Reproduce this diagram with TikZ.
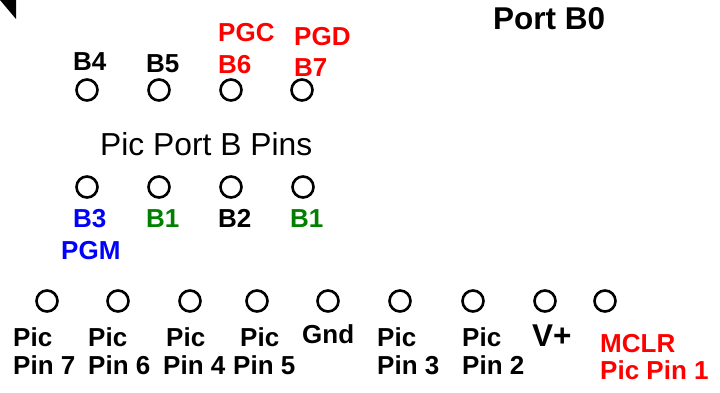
\documentclass[tikz,border=0pt]{standalone}
\usepackage{fontspec}
\setmainfont{Liberation Sans}
\definecolor{pred}{RGB}{255,0,0}
\definecolor{pblue}{RGB}{0,0,255}
\definecolor{pgreen}{RGB}{0,128,0}
\tikzset{
  pin/.style={circle,draw=black,line width=2.6pt,minimum size=21pt,inner sep=0pt},
  lbl/.style={anchor=base west,inner sep=0pt,font=\fontsize{26}{30}\selectfont\bfseries},
  biglbl/.style={anchor=base west,inner sep=0pt,font=\fontsize{31.5}{36}\selectfont\bfseries},
  title/.style={anchor=base west,inner sep=0pt,font=\fontsize{31.8}{36}\selectfont},
}
\begin{document}
\begin{tikzpicture}[x=1pt,y=-1pt]
\useasboundingbox (0,0) rectangle (720,392);
\fill[black] (0,0) -- (16,0) -- (16,19) -- cycle;
% top row
\node[pin] (c4) at (87,90) {};
\node[pin] (c5) at (159,90) {};
\node[pin] (c6) at (231,90) {};
\node[pin] (c7) at (302,90) {};
\node[lbl] (lB4) at (73,70) {B4};
\node[lbl] (lB5) at (146,72) {B5};
\node[lbl,text=pred] (lPGC) at (218,41) {PGC};
\node[lbl,text=pred] (lB6) at (218,73) {B6};
\node[lbl,text=pred] (lPGD) at (294,45) {PGD};
\node[lbl,text=pred] (lB7) at (294,76) {B7};
\node[biglbl] (port) at (493,29) {Port B0};
\node[title] (ttl) at (100,155) {Pic Port B Pins};
% second row
\node[pin] (c3) at (87,187) {};
\node[pin] (c1a) at (159,187) {};
\node[pin] (c2) at (231,187) {};
\node[pin] (c1b) at (303,187) {};
\node[lbl,text=pblue] (lB3) at (73,227) {B3};
\node[lbl,text=pblue] (lPGM) at (61,259) {PGM};
\node[lbl,text=pgreen] (lB1a) at (146,227) {B1};
\node[lbl] (lB2) at (218,227) {B2};
\node[lbl,text=pgreen] (lB1b) at (290,227) {B1};
% bottom row
\node[pin] (p7) at (47,301) {};
\node[pin] (p6) at (118,301) {};
\node[pin] (p4) at (190,301) {};
\node[pin] (p5) at (257,301) {};
\node[pin] (gnd) at (328,301) {};
\node[pin] (p3) at (400,301) {};
\node[pin] (p2) at (473,301) {};
\node[pin] (vp) at (545,301) {};
\node[pin] (p1) at (605,301) {};
\node[lbl] (l7a) at (13,346) {Pic};
\node[lbl] (l7b) at (13,374) {Pin 7};
\node[lbl] (l6a) at (88,346) {Pic};
\node[lbl] (l6b) at (88,374) {Pin 6};
\node[lbl] (l4a) at (166,346) {Pic};
\node[lbl] (l4b) at (163,374) {Pin 4};
\node[lbl] (l5a) at (240,346) {Pic};
\node[lbl] (l5b) at (233,374) {Pin 5};
\node[lbl] (lgnd) at (302,343) {Gnd};
\node[lbl] (l3a) at (377,346) {Pic};
\node[lbl] (l3b) at (377,374) {Pin 3};
\node[lbl] (l2a) at (462,346) {Pic};
\node[lbl] (l2b) at (462,374) {Pin 2};
\node[biglbl] (lvp) at (532,346) {V+};
\node[lbl,text=pred] (lmclr) at (600,352) {MCLR};
\node[lbl,text=pred] (lpp1) at (600,379) {Pic Pin 1};
\end{tikzpicture}
\end{document}
